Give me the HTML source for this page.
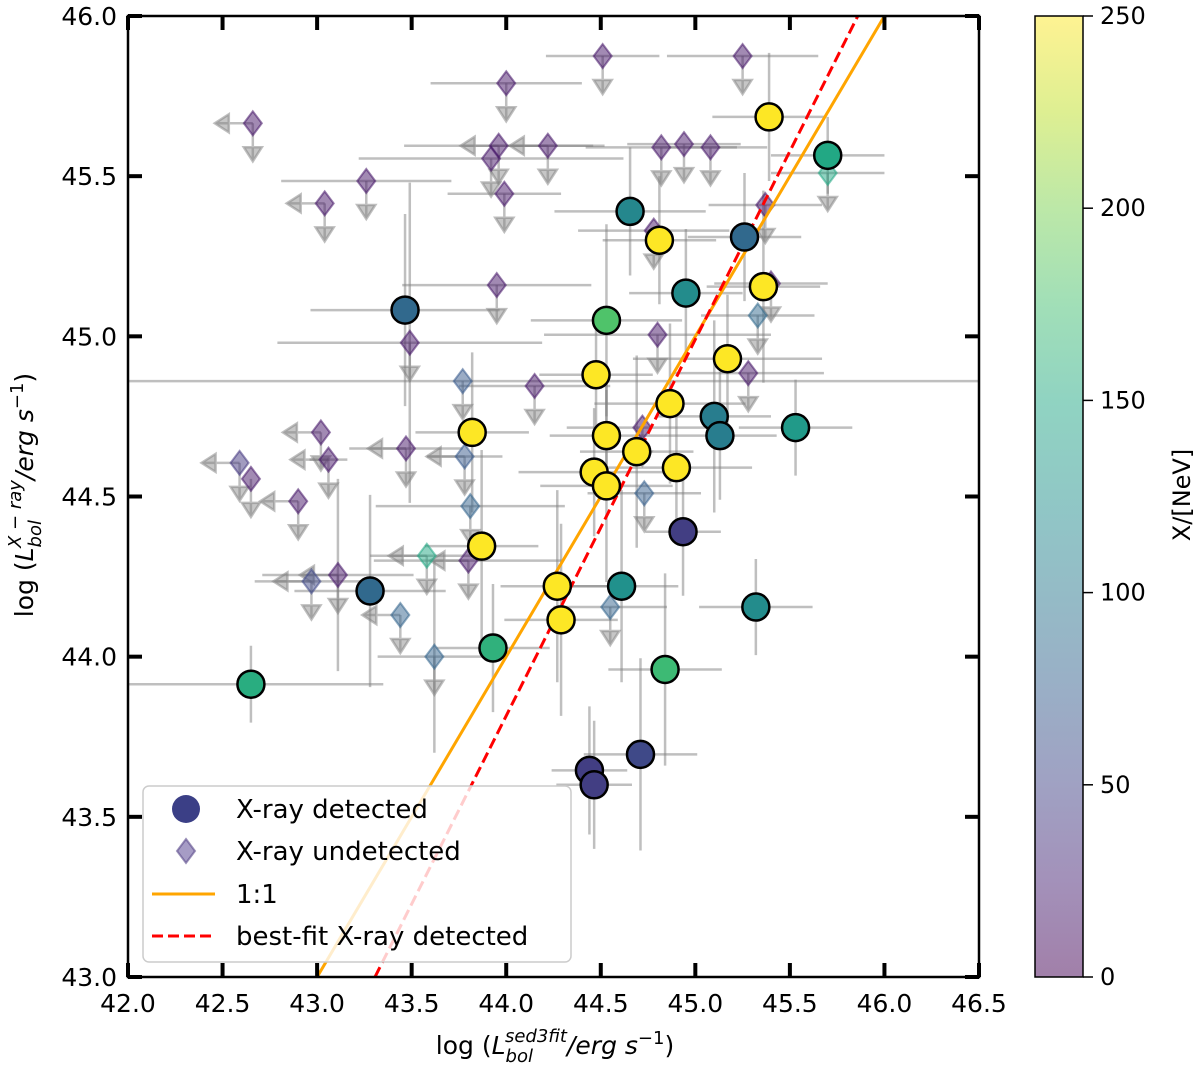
<!DOCTYPE html>
<html><head><meta charset="utf-8"><style>
html,body{margin:0;padding:0;background:#fff}
svg text{font-family:"DejaVu Sans","Liberation Sans",sans-serif;fill:#000}
</style></head><body>
<svg id="chart" width="1200" height="1068" viewBox="0 0 1200 1068" xmlns="http://www.w3.org/2000/svg">
<defs>
<clipPath id="plotclip"><rect x="128" y="16" width="851" height="961"/></clipPath>
<linearGradient id="cbgrad" x1="0" y1="1" x2="0" y2="0">
<stop offset="0" stop-color="#440154"/><stop offset="0.1" stop-color="#482475"/><stop offset="0.2" stop-color="#414487"/><stop offset="0.3" stop-color="#355f8d"/><stop offset="0.4" stop-color="#2a788e"/><stop offset="0.5" stop-color="#21918c"/><stop offset="0.6" stop-color="#22a884"/><stop offset="0.7" stop-color="#44bf70"/><stop offset="0.8" stop-color="#7ad151"/><stop offset="0.9" stop-color="#bddf26"/><stop offset="1" stop-color="#fde725"/>
</linearGradient>
</defs>
<g id="errs" clip-path="url(#plotclip)"></g>
<g id="lims" clip-path="url(#plotclip)"></g>
<g id="und" clip-path="url(#plotclip)"></g>
<g id="fits" clip-path="url(#plotclip)"></g>
<g id="det" clip-path="url(#plotclip)"></g>
<g id="axes"></g>
<g id="legend"></g>
<g id="cbar"></g>
</svg>
<script>
// detected sources
const detX=[43.465,43.28,42.65,43.93,43.82,43.87,44.27,44.29,44.475,44.465,44.53,44.53,44.53,44.61,44.655,44.69,44.81,44.866,44.90,44.95,44.84,44.935,45.10,45.13,45.17,45.26,45.36,45.39,45.32,45.53,45.70,44.44,44.465,44.71];
const detY=[45.082,44.205,43.914,44.027,44.70,44.345,44.22,44.115,44.88,44.576,44.533,44.69,45.05,44.22,45.39,44.64,45.30,44.79,44.59,45.135,43.96,44.39,44.75,44.69,44.93,45.31,45.155,45.685,44.155,44.715,45.565,43.645,43.60,43.695];
const detC=[85,85,155,160,250,250,250,250,250,250,250,250,180,125,115,250,250,250,250,120,170,45,105,105,250,85,250,250,120,135,150,45,45,55];
const detXe=[0.5,0.4,0.7,0.3,0.3,0.3,0.3,0.3,0.3,0.4,0.35,0.3,0.4,0.3,0.4,0.3,0.3,0.4,0.4,0.3,0.3,0.2,0.3,0.3,0.5,0.3,0.3,0.3,0.3,0.3,0.3,0.2,0.2,0.3];
const detYe=[0.3,0.3,0.12,0.2,0.25,0.3,0.3,0.3,0.2,0.2,0.3,0.2,0.3,0.3,0.2,0.3,0.2,0.25,0.2,0.2,0.3,0.2,0.3,0.2,0.2,0.2,0.3,0.2,0.15,0.15,0.12,0.2,0.2,0.3];
// undetected (upper limits)
const undX=[42.66,43.26,43.04,44.51,44.0,43.96,43.92,44.22,43.99,43.95,43.49,43.77,44.15,44.80,44.78,44.94,45.08,45.25,45.37,45.40,45.33,45.28,44.73,43.78,43.81,43.47,43.02,43.06,42.90,42.59,42.65,43.11,42.97,43.44,43.62,43.58,44.55,44.72,45.70,44.82,43.80];
const undY=[45.665,45.485,45.415,45.875,45.79,45.595,45.555,45.595,45.445,45.16,44.98,44.86,44.845,45.005,45.33,45.6,45.59,45.875,45.41,45.165,45.065,44.885,44.51,44.625,44.47,44.65,44.7,44.615,44.485,44.605,44.555,44.255,44.235,44.13,44.0,44.315,44.155,44.715,45.51,45.59,44.3];
const undC=[15,15,15,15,15,15,15,15,15,15,15,70,15,15,15,15,15,15,15,15,85,15,75,70,80,15,15,15,15,40,15,15,55,80,80,150,80,15,150,15,15];
const undLeft=[1,0,1,0,0,1,0,1,0,0,0,0,0,0,0,0,0,0,0,0,0,0,0,1,0,1,1,1,1,1,0,1,1,1,0,1,0,0,0,0,1];
const undXe=[0,0.45,0,0.3,0.4,0.5,0.7,0.3,0.3,0.5,0.7,3,0.4,0.6,0.4,0.3,0.3,0.4,0.3,0.3,0.3,0.4,0.3,0.2,0.5,0.3,0,0.1,0,0,0,0.4,0.3,0,0.3,0.3,0.3,0.4,0.3,0.4,0.5];
const undYe=[0,0,0,0,0,0,0,0,0,0,0.5,0,0,0,0,0,0,0,0,0,0,0,0,0,0,0,0,0,0,0,0,0.3,0,0,0.3,0,0,0,0,0,0];
const xTicks=["42.0","42.5","43.0","43.5","44.0","44.5","45.0","45.5","46.0","46.5"];
const yTicks=["43.0","43.5","44.0","44.5","45.0","45.5","46.0"];
const cbTicks=["0","50","100","150","200","250"];
const fitSlope=1.175, fitX0=43.306, fitY0=43.0;

const NS="http://www.w3.org/2000/svg";
const L=128,R=979,T=16,B=977;
const sx=v=>L+(v-42)/4.5*(R-L);
const sy=v=>B-(v-43)/3*(B-T);
const CBT=16,CBB=977;
const scb=v=>CBB-v/250*(CBB-CBT);
function mk(p,tag,at){const e=document.createElementNS(NS,tag);for(const k in at)e.setAttribute(k,at[k]);p.appendChild(e);return e;}
const stops=[[0,[68,1,84]],[.1,[72,36,117]],[.2,[65,68,135]],[.3,[53,95,141]],[.4,[42,120,142]],[.5,[33,145,140]],[.6,[34,168,132]],[.7,[68,191,112]],[.8,[122,209,81]],[.9,[189,223,38]],[1,[253,231,37]]];
function vir(v){let t=Math.max(0,Math.min(1,v/250));for(let i=1;i<stops.length;i++){if(t<=stops[i][0]){const a=stops[i-1],b=stops[i],f=(t-a[0])/(b[0]-a[0]);return 'rgb('+a[1].map((c,j)=>Math.round(c+(b[1][j]-c)*f)).join(',')+')';}}return 'rgb(253,231,37)';}
const errs=document.getElementById('errs'),lims=document.getElementById('lims'),und=document.getElementById('und'),det=document.getElementById('det');
const gray='rgba(128,128,128,0.5)';
detX.forEach((x,i)=>{
  const l1=mk(errs,'line',{x1:sx(x-detXe[i]),x2:sx(x+detXe[i]),y1:sy(detY[i]),y2:sy(detY[i]),stroke:gray,'stroke-width':2.5});
  
  
  const l2=mk(errs,'line',{x1:sx(x),x2:sx(x),y1:sy(detY[i]-detYe[i]),y2:sy(detY[i]+detYe[i]),stroke:gray,'stroke-width':2.5});
  
  
});
undX.forEach((x,i)=>{
  const cx=sx(x),cy=sy(undY[i]);
  if(undXe[i]>0){const l=mk(errs,'line',{x1:sx(x-undXe[i]),x2:sx(x+undXe[i]),y1:cy,y2:cy,stroke:gray,'stroke-width':2.5});
    
    }
  if(undYe[i]>0){const l=mk(errs,'line',{x1:cx,x2:cx,y1:sy(undY[i]-undYe[i]),y2:sy(undY[i]+undYe[i]),stroke:gray,'stroke-width':2.5});
    
    }
  const a=mk(lims,'path',{d:`M${cx},${cy} V${cy+36} M${cx-9},${cy+24} L${cx},${cy+38} L${cx+9},${cy+24} Z`,stroke:'rgba(128,128,128,0.5)','stroke-width':2.5,fill:'rgba(128,128,128,0.45)'});
  
  
  if(undLeft[i]){const b=mk(lims,'path',{d:`M${cx},${cy} H${cx-36} M${cx-24},${cy-9} L${cx-38},${cy} L${cx-24},${cy+9} Z`,stroke:'rgba(128,128,128,0.5)','stroke-width':2.5,fill:'rgba(128,128,128,0.45)'});
    
    }
  const d=mk(und,'path',{d:`M${cx},${cy-12} L${cx+9},${cy} L${cx},${cy+12} L${cx-9},${cy} Z`,fill:vir(undC[i]),'fill-opacity':0.5,stroke:vir(undC[i]),'stroke-opacity':0.55,'stroke-width':2});
  
  
});
const fits=document.getElementById('fits');
const o=mk(fits,'line',{x1:sx(43),y1:sy(43),x2:sx(46),y2:sy(46),stroke:'#ffa500','stroke-width':3});


const f=mk(fits,'line',{x1:sx(fitX0),y1:sy(fitY0),x2:sx(fitX0+3/fitSlope),y2:sy(fitY0+3),stroke:'#ff0000','stroke-width':3,'stroke-dasharray':'11,5'});


detX.forEach((x,i)=>{
  const c=mk(det,'circle',{cx:sx(x),cy:sy(detY[i]),r:13.5,fill:vir(detC[i]),stroke:'#000','stroke-width':2.5});
  
  
});
// axes
const ax=document.getElementById('axes');
mk(ax,'rect',{x:L,y:T,width:R-L,height:B-T,fill:'none',stroke:'#000','stroke-width':2.5});
xTicks.forEach(t=>{const x=sx(+t);
  mk(ax,'line',{x1:x,x2:x,y1:B,y2:B-14,stroke:'#000','stroke-width':4});
  mk(ax,'line',{x1:x,x2:x,y1:T,y2:T+14,stroke:'#000','stroke-width':4});
  const tx=mk(ax,'text',{x:x,y:B+35,'text-anchor':'middle','font-size':25});tx.textContent=t;
  
  });
yTicks.forEach(t=>{const y=sy(+t);
  mk(ax,'line',{x1:L,x2:L+14,y1:y,y2:y,stroke:'#000','stroke-width':4});
  mk(ax,'line',{x1:R,x2:R-14,y1:y,y2:y,stroke:'#000','stroke-width':4});
  const tx=mk(ax,'text',{x:L-11,y:y+9,'text-anchor':'end','font-size':25});tx.textContent=t;
  
  });
const xl=mk(ax,'text',{x:555,y:1054,'text-anchor':'middle','font-size':25});
xl.innerHTML='log (<tspan font-style="italic">L</tspan><tspan font-style="italic" font-size="18" dy="8">bol</tspan><tspan font-style="italic" font-size="18" dx="-28" dy="-20">sed3fit</tspan><tspan font-style="italic" dy="12">/erg s</tspan><tspan font-size="18" dy="-10">−1</tspan><tspan dy="10">)</tspan>';


const yl=mk(ax,'text',{x:0,y:0,'text-anchor':'middle','font-size':25,transform:'translate(33,495) rotate(-90)'});
yl.innerHTML='log (<tspan font-style="italic">L</tspan><tspan font-style="italic" font-size="18" dy="8">bol</tspan><tspan font-style="italic" font-size="18" dx="-28" dy="-20">X − ray</tspan><tspan font-style="italic" dy="12">/erg s</tspan><tspan font-size="18" dy="-10">−1</tspan><tspan dy="10">)</tspan>';


// legend
const lg=document.getElementById('legend');
mk(lg,'rect',{x:143,y:786,width:428,height:176,rx:6,fill:'rgba(255,255,255,0.8)',stroke:'#ccc','stroke-width':1.5});
const entries=[['X-ray detected',809],['X-ray undetected',851],['1:1',894],['best-fit X-ray detected',936]];
mk(lg,'circle',{cx:186,cy:809,r:14,fill:'#3b3f86'});
mk(lg,'path',{d:'M186,839 L195,851 L186,863 L177,851 Z',fill:'#6b5a9e','fill-opacity':0.6,stroke:'#5a4a8a','stroke-opacity':0.6,'stroke-width':2});
mk(lg,'line',{x1:152,x2:215,y1:894,y2:894,stroke:'#ffa500','stroke-width':3});
mk(lg,'line',{x1:152,x2:215,y1:936,y2:936,stroke:'#ff0000','stroke-width':3,'stroke-dasharray':'11,5'});
entries.forEach(e=>{const t=mk(lg,'text',{x:236,y:e[1]+9,'font-size':26});t.textContent=e[0];
  
  });
// colorbar
const cb=document.getElementById('cbar');
mk(cb,'rect',{x:1035,y:CBT,width:48,height:CBB-CBT,fill:'url(#cbgrad)','fill-opacity':0.5});
mk(cb,'rect',{x:1035,y:CBT,width:48,height:CBB-CBT,fill:'none',stroke:'#000','stroke-width':1.5});
cbTicks.forEach(t=>{const y=scb(+t);
  mk(cb,'line',{x1:1083,x2:1093,y1:y,y2:y,stroke:'#000','stroke-width':1.5});
  const tx=mk(cb,'text',{x:1100,y:y+8,'font-size':24});tx.textContent=t;
  
  });
const cl=mk(cb,'text',{x:0,y:0,'text-anchor':'middle','font-size':24,transform:'translate(1190,495) rotate(-90)'});cl.textContent='X/[NeV]';


</script>
</body></html>
